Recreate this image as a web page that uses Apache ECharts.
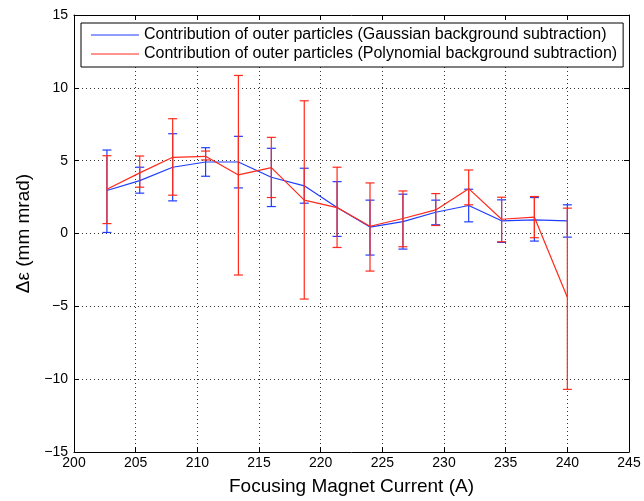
<!DOCTYPE html>
<html>
<head>
<meta charset="utf-8">
<script src="https://cdn.jsdelivr.net/npm/echarts@6/dist/echarts.min.js"></script>
<style>html,body{margin:0;padding:0;background:#fff}#c{width:644px;height:501px}</style>
</head>
<body>
<div id="c"></div>
<script>
var currents = [202.67, 205.33, 208.00, 210.67, 213.33, 216.00, 218.67, 221.33, 224.00, 226.67, 229.33, 232.00, 234.67, 237.33, 240.00];
var gaussVal  = [2.95, 3.63, 4.55, 4.91, 4.91, 3.86, 3.27, 1.78, 0.44, 0.82, 1.46, 1.92, 0.87, 0.94, 0.87];
var gaussLow  = [0.07, 2.77, 2.24, 3.93, 3.13, 1.85, 2.08, -0.20, -1.48, -1.07, 0.60, 0.80, -0.61, -0.52, -0.25];
var gaussHigh = [5.73, 4.55, 6.85, 5.89, 6.67, 5.85, 4.48, 3.56, 2.29, 2.70, 2.29, 3.04, 2.31, 2.47, 1.97];
var polyVal   = [3.04, 4.16, 5.23, 5.30, 4.02, 4.52, 2.29, 1.78, 0.50, 1.03, 1.62, 3.08, 0.98, 1.12, -4.38];
var polyLow   = [0.68, 3.18, 2.63, 5.05, -2.85, 2.47, -4.50, -0.96, -2.58, -0.91, 0.55, 1.97, -0.57, -0.29, -10.70];
var polyHigh  = [5.34, 5.32, 7.88, 5.66, 10.85, 6.60, 9.11, 4.55, 3.47, 2.92, 2.74, 4.36, 2.49, 2.54, 1.74];
var names = ['Contribution of outer particles (Gaussian background subtraction)',
             'Contribution of outer particles (Polynomial background subtraction)'];
var xTitle = 'Focusing Magnet Current (A)';
var yTitle = 'Δε (mm mrad)';
var blue = '#1f3dff', red = '#ff2a1a';

function pts(v){ return currents.map(function(x,i){ return [x, v[i]]; }); }
function errs(lo,hi){ return currents.map(function(x,i){ return [x, lo[i], hi[i]]; }); }
function errRender(color){
  return function(params, api){
    var x = api.value(0);
    var lo = api.coord([x, api.value(1)]);
    var hi = api.coord([x, api.value(2)]);
    var w = 4.5;
    var st = {stroke: color, lineWidth: 1.2};
    return {type:'group', children:[
      {type:'line', shape:{x1:lo[0],y1:lo[1],x2:hi[0],y2:hi[1]}, style:st},
      {type:'line', shape:{x1:lo[0]-w,y1:lo[1],x2:lo[0]+w,y2:lo[1]}, style:st},
      {type:'line', shape:{x1:hi[0]-w,y1:hi[1],x2:hi[0]+w,y2:hi[1]}, style:st}
    ]};
  };
}
var minus = function(v){ return String(v).replace('-', '−'); };
var font = 'Liberation Sans, Arial, Helvetica, sans-serif';
var chart = echarts.init(document.getElementById('c'));
chart.setOption({
  animation: false,
  backgroundColor: '#fff',
  grid: {left: 74, right: 15, top: 15, bottom: 48},
  legend: {
    orient: 'vertical', left: 81, top: 23,
    padding: [4, 6, 5, 10], itemGap: 3,
    borderColor: '#000', borderWidth: 1, backgroundColor: '#fff',
    icon: 'rect', itemWidth: 48, itemHeight: 1.2,
    textStyle: {fontFamily: font, fontSize: 16, color: '#000'},
    data: names
  },
  xAxis: [{
    type: 'value', min: 200, max: 245, interval: 5,
    name: xTitle, nameLocation: 'middle', nameGap: 25,
    nameTextStyle: {fontFamily: font, fontSize: 19, color: '#000'},
    axisLine: {onZero: false, lineStyle: {color: '#000', width: 1}},
    axisTick: {inside: true, length: 5, lineStyle: {color: '#000'}},
    axisLabel: {fontFamily: font, fontSize: 14, color: '#000', margin: 4},
    splitLine: {show: true, lineStyle: {color: '#333', type: [1, 3], width: 1}}
  }, {
    type: 'value', min: 200, max: 245, interval: 5, position: 'top',
    axisLine: {onZero: false, lineStyle: {color: '#000', width: 1}},
    axisTick: {inside: true, length: 5, lineStyle: {color: '#000'}},
    axisLabel: {show: false}, splitLine: {show: false}
  }],
  yAxis: [{
    type: 'value', min: -15, max: 15, interval: 5,
    name: yTitle, nameLocation: 'middle', nameGap: 36, nameRotate: 90,
    nameTextStyle: {fontFamily: font, fontSize: 19, color: '#000'},
    axisLine: {onZero: false, lineStyle: {color: '#000', width: 1}},
    axisTick: {inside: true, length: 5, lineStyle: {color: '#000'}},
    axisLabel: {fontFamily: font, fontSize: 14, color: '#000', margin: 6, formatter: minus},
    splitLine: {show: true, lineStyle: {color: '#333', type: [1, 3], width: 1}}
  }, {
    type: 'value', min: -15, max: 15, interval: 5, position: 'right',
    axisLine: {onZero: false, lineStyle: {color: '#000', width: 1}},
    axisTick: {inside: true, length: 5, lineStyle: {color: '#000'}},
    axisLabel: {show: false}, splitLine: {show: false}
  }],
  series: [
    {name: names[0], type: 'line', data: pts(gaussVal), symbol: 'none', color: blue,
     lineStyle: {color: blue, width: 1.2}, z: 2},
    {name: names[0], type: 'custom', data: errs(gaussLow, gaussHigh), renderItem: errRender(blue),
     encode: {x: 0, y: [1, 2]}, z: 2},
    {name: names[1], type: 'line', data: pts(polyVal), symbol: 'none', color: red,
     lineStyle: {color: red, width: 1.2}, z: 3},
    {name: names[1], type: 'custom', data: errs(polyLow, polyHigh), renderItem: errRender(red),
     encode: {x: 0, y: [1, 2]}, z: 3}
  ]
});
</script>
</body>
</html>
